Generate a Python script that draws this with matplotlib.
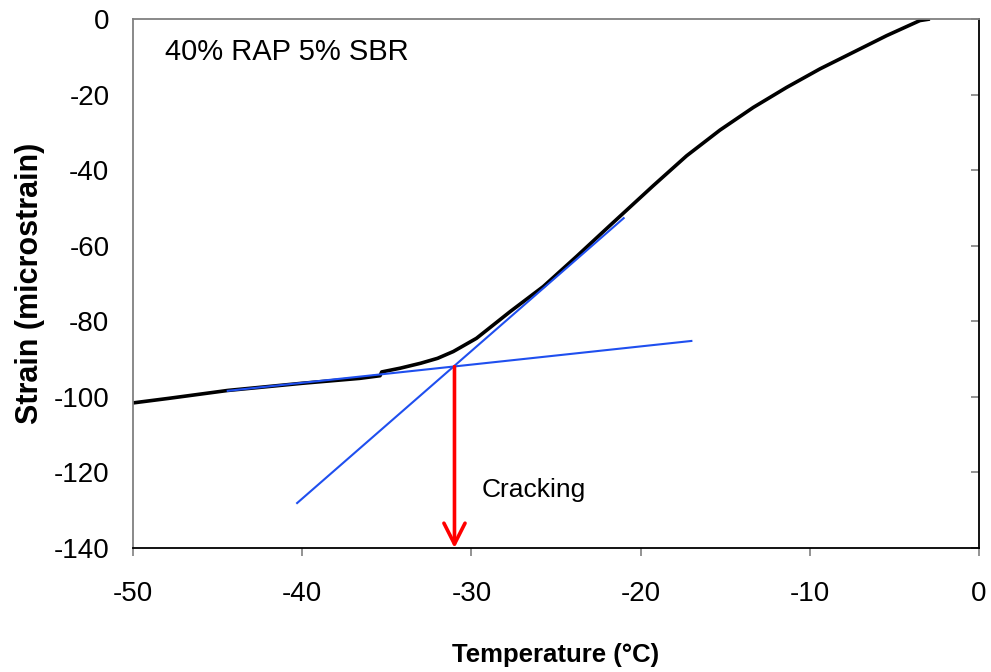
import matplotlib
matplotlib.use('Agg')
from matplotlib import pyplot as plt
import numpy as np

plt.rcParams['font.family'] = ['Liberation Sans', 'DejaVu Sans']
plt.rcParams['axes.unicode_minus'] = False

temp = [-50, -47.9, -44.4, -40.0, -36.6, -35.4, -35.3, -34.2, -33.0, -32.0, -31.07, -29.7,
        -27.7, -25.75, -23.8, -21.8, -19.25, -17.28, -15.31, -13.34, -11.37, -9.4,
        -7.43, -5.46, -3.49, -2.9]
strain = [-101.6, -100.4, -98.3, -96.4, -95.1, -94.4, -93.4, -92.4, -91.1, -89.8, -88.0, -84.5,
          -77.4, -70.8, -62.9, -54.6, -44.1, -36.2, -29.4, -23.4, -18.1, -13.2,
          -8.8, -4.4, -0.4, 0.0]

# tangent lines
glassy_x = [-44.4, -17.0]
glassy_y = [-98.4, -85.2]
rubbery_x = [-40.3, -21.0]
rubbery_y = [-128.1, -52.7]

crack_t = -31.0
crack_s = -92.0

fig = plt.figure(figsize=(9.91, 6.72), dpi=100)
ax = fig.add_axes([0.1342, 0.1845, 0.8537, 0.7872])

ax.plot(temp, strain, color='black', lw=2.6, solid_capstyle='butt', solid_joinstyle='round')
ax.plot(glassy_x, glassy_y, color='#1f4fef', lw=1.5)
ax.plot(rubbery_x, rubbery_y, color='#1f4fef', lw=1.5)

ax.annotate('', xy=(crack_t, -140), xytext=(crack_t, crack_s),
            arrowprops=dict(arrowstyle='->,head_length=0.75,head_width=0.38',
                            color='red', lw=2.6, mutation_scale=20, shrinkA=0, shrinkB=0))

ax.text(-29.4, -124.6, 'Cracking', fontsize=19, va='center', ha='left')
ax.text(-48.1, -8.7, '40% RAP 5% SBR', fontsize=21, va='center', ha='left')

ax.set_xlim(-50, 0)
ax.set_ylim(-140, 0)
ax.set_xticks(np.arange(-50, 1, 10))
ax.set_yticks(np.arange(-140, 1, 20))

ax.spines['left'].set_color('#808080')
ax.spines['top'].set_color('#808080')
ax.spines['right'].set_color('black')
ax.spines['bottom'].set_color('black')
for s in ax.spines.values():
    s.set_linewidth(1.3)

ax.tick_params(axis='x', direction='out', length=6, width=1.2, color='#808080',
               labelsize=20, pad=18)
ax.tick_params(axis='y', left=False, right=True, labelleft=True, labelright=False,
               direction='in', length=6, width=1.2, color='#808080', labelsize=20, pad=17)

ax.set_xlabel('Temperature (°C)', fontsize=18.5, fontweight='bold', labelpad=26)
ax.set_ylabel('Strain (microstrain)', fontsize=22, fontweight='bold', labelpad=6)

fig.savefig('out.png', dpi=100)
